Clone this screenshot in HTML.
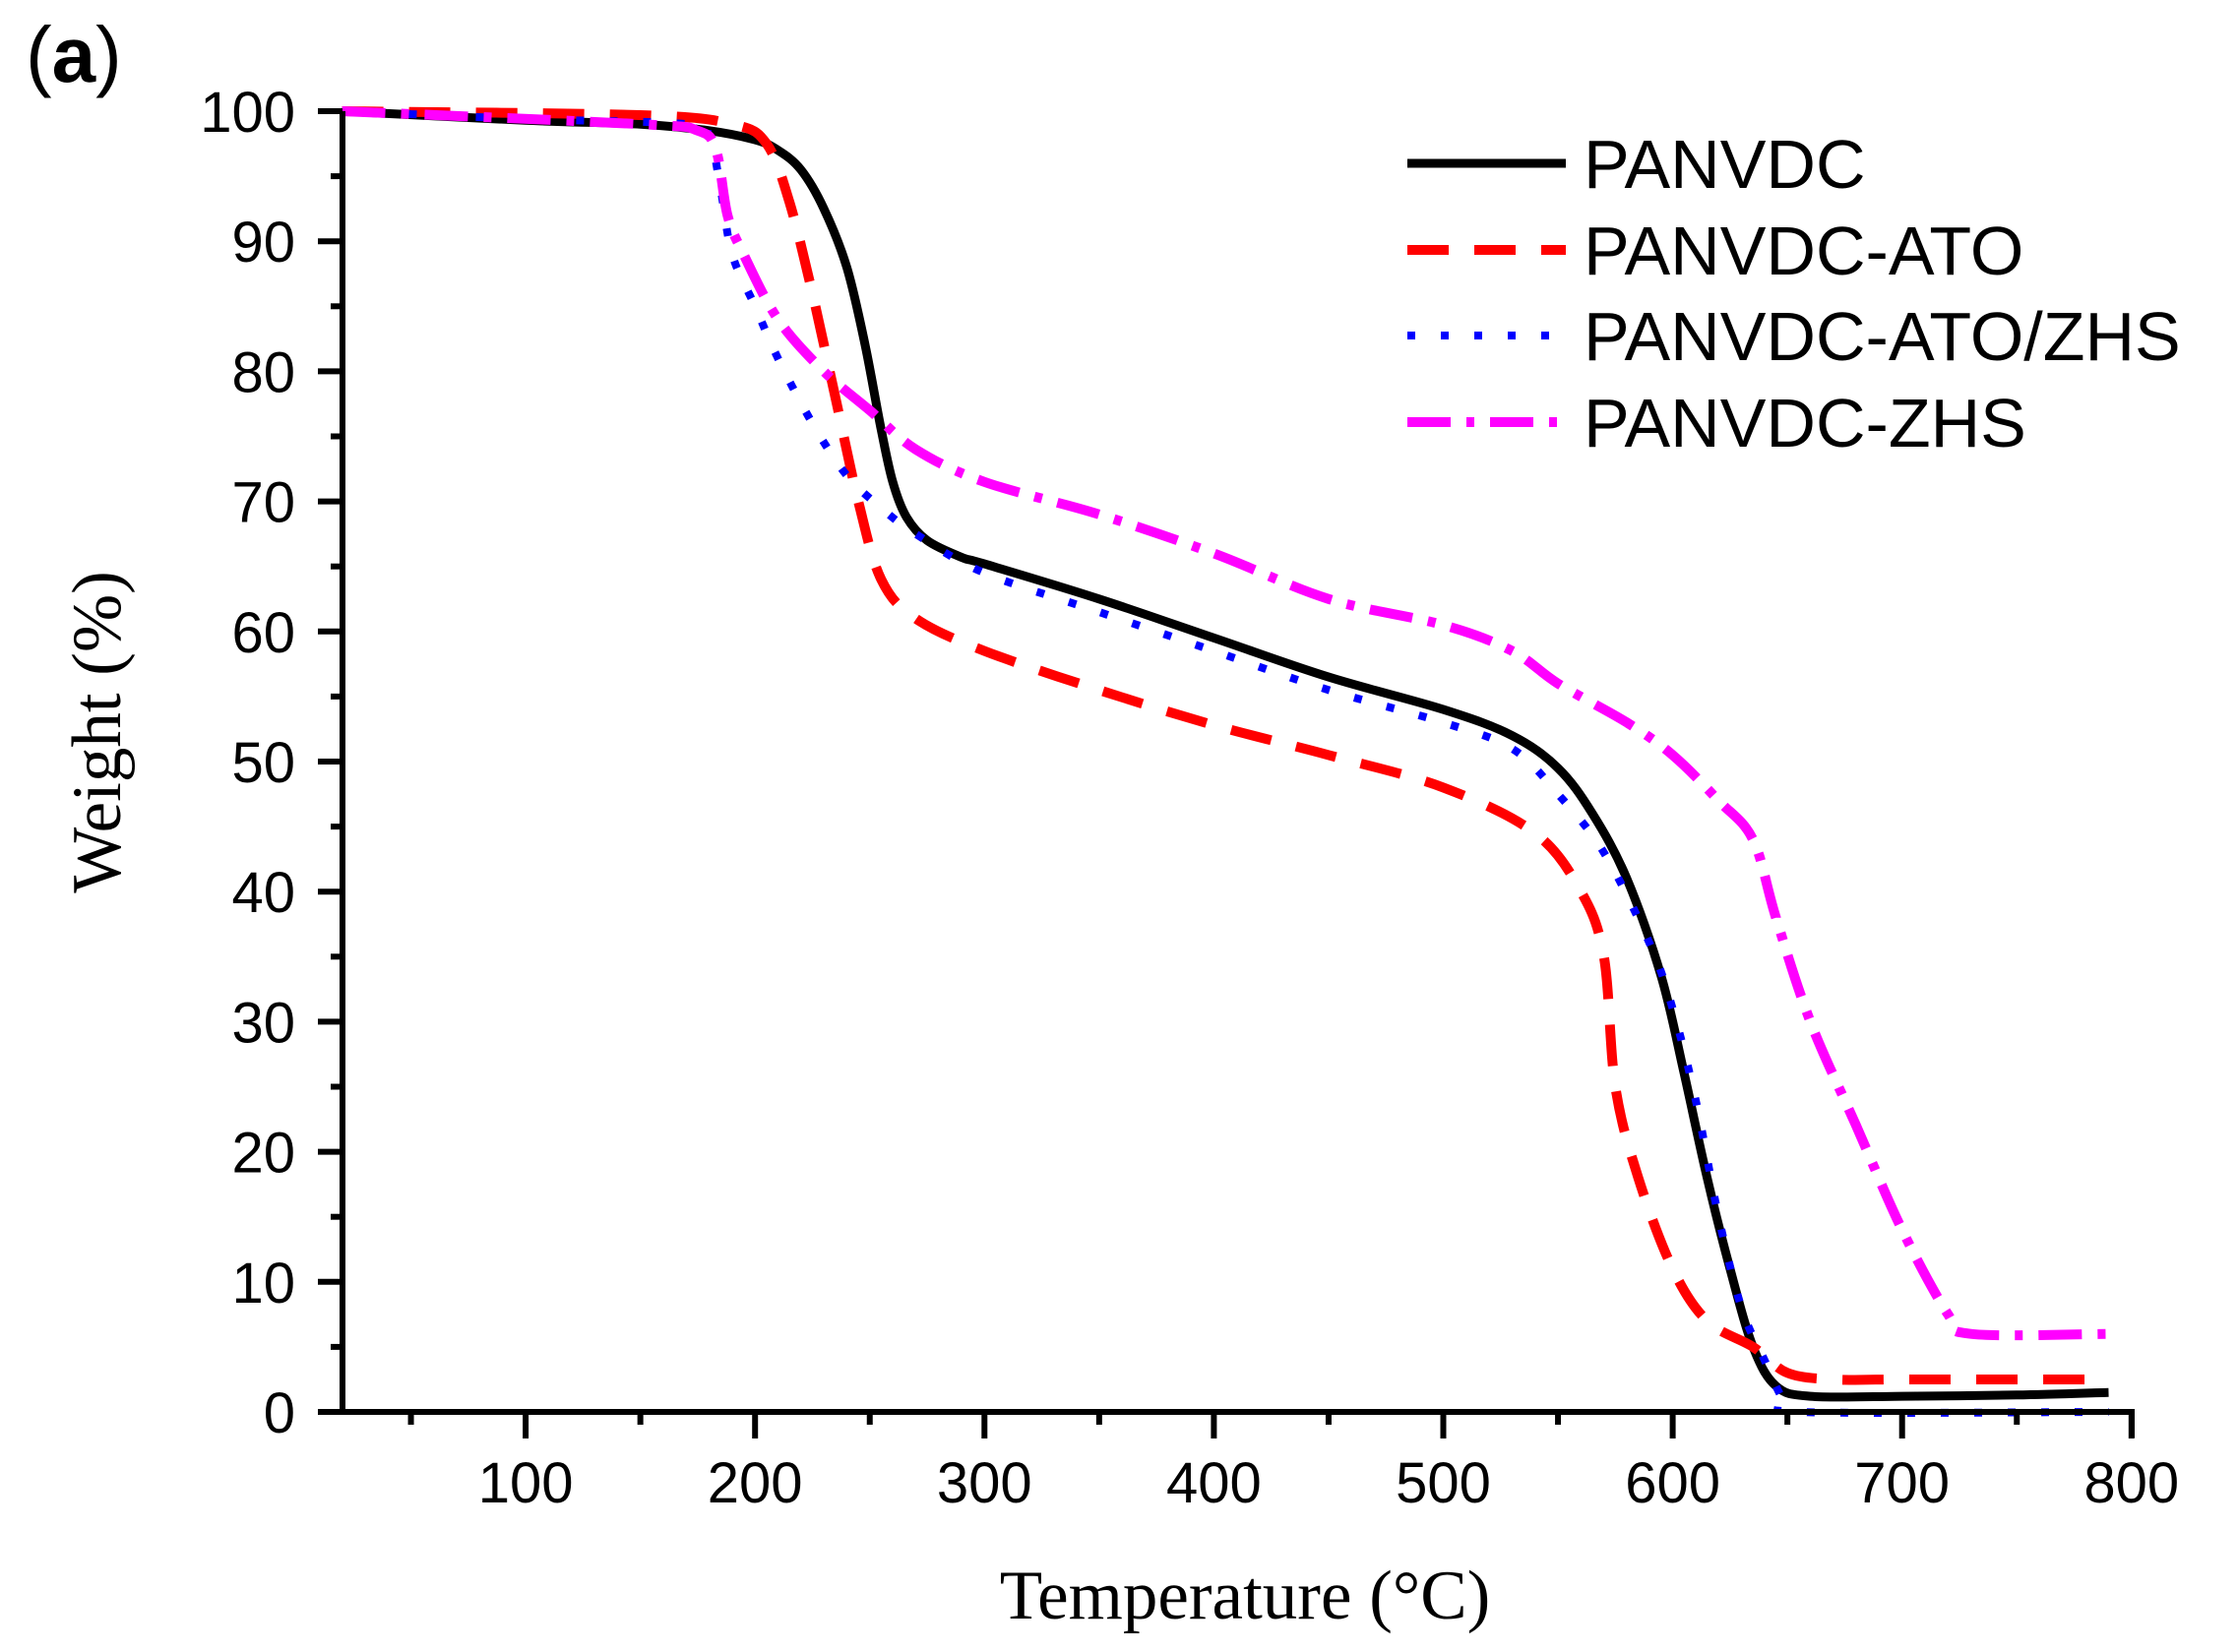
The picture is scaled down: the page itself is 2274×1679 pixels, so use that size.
<!DOCTYPE html>
<html><head><meta charset="utf-8"><style>
html,body{margin:0;padding:0;background:#fff;}
svg{display:block;}
</style></head><body>
<svg id="s" width="2274" height="1679" viewBox="0 0 2274 1679" xmlns="http://www.w3.org/2000/svg">
<rect width="2274" height="1679" fill="#fff"/>
<g id="plot" fill="none" stroke-linejoin="round"></g>
<g id="axes" stroke="#000" stroke-width="6" fill="none"></g>
<g id="labels" font-family="Liberation Sans, Arial, sans-serif" font-size="58" fill="#000"></g>
<text x="26" y="83" font-family="Liberation Sans, Arial, sans-serif" font-size="80" fill="#000">(<tspan font-weight="bold">a</tspan>)</text>
<text x="1265" y="1645" text-anchor="middle" font-family="Liberation Serif, serif" font-size="71" fill="#000">Temperature (°C)</text>
<text transform="translate(122,744) rotate(-90)" text-anchor="middle" font-family="Liberation Serif, serif" font-size="71" fill="#000">Weight (%)</text>
<g font-family="Liberation Sans, Arial, sans-serif" font-size="70" fill="#000">
<line x1="1430" y1="166" x2="1591" y2="166" stroke="#000" stroke-width="9"/>
<line x1="1430" y1="254" x2="1591" y2="254" stroke="#f00" stroke-width="10" stroke-dasharray="42,26"/>
<line x1="1430" y1="341" x2="1591" y2="341" stroke="#00f" stroke-width="8" stroke-dasharray="8,26"/>
<line x1="1430" y1="429" x2="1591" y2="429" stroke="#f0f" stroke-width="10" stroke-dasharray="44,16,8,16"/>
<text x="1609" y="191">PANVDC</text>
<text x="1609" y="279">PANVDC-ATO</text>
<text x="1609" y="366">PANVDC-ATO/ZHS</text>
<text x="1609" y="454">PANVDC-ZHS</text>
</g>
</svg>
<script>
var X=function(t){return 301+2.331*t;}, Y=function(w){return 1435-13.22*w;};
var NS="http://www.w3.org/2000/svg";
function el(p,n,a){var e=document.createElementNS(NS,n);for(var k in a)e.setAttribute(k,a[k]);p.appendChild(e);return e;}
var series=[
{c:"#000",w:9,d:"none",p:[[20,100],[100,99.3],[150,99],[180,98.5],[200,97.8],[210,97],[220,95.5],[230,92.5],[240,88],[248,82],[255,75.5],[260,71.5],[266,68.8],[275,67],[290,65.7],[300,65.2],[350,62.5],[400,59.5],[450,56.5],[500,54],[530,52],[550,49.5],[565,46],[580,41],[595,33.5],[605,26],[615,18],[625,11],[635,5],[645,2],[660,1.2],[700,1.2],[750,1.3],[790,1.5]]},
{c:"#f00",w:10,d:"42,26",p:[[20,100],[150,99.7],[190,99],[205,97.5],[215,93],[225,86],[235,78],[245,70],[255,64],[270,61],[300,58.5],[350,55.5],[400,52.8],[450,50.5],[500,48],[540,44.5],[560,40],[570,35],[575,25],[585,18],[600,11],[615,7],[635,5],[650,3],[670,2.5],[700,2.5],[790,2.5]]},
{c:"#00f",w:8,d:"8,26",p:[[20,100],[100,99.4],[170,99],[180,98],[185,94],[190,89],[200,85],[210,81],[225,76],[240,72],[255,69.5],[270,67.5],[300,64.5],[350,61.5],[400,58.5],[450,55.5],[500,53],[530,51],[550,47.5],[570,43],[590,36],[600,31],[610,24],[620,15],[630,8],[640,4],[648,1],[655,0],[790,0]]},
{c:"#f0f",w:10,d:"44,16,8,16",p:[[20,100],[150,99],[175,98.5],[183,97],[188,92],[195,89],[210,84],[230,80],[250,77],[270,74],[300,71.5],[350,69],[400,66],[450,62.5],[500,60.5],[530,58.5],[550,56],[580,53],[600,50.5],[620,47],[635,44],[645,38],[660,30],[680,22],[700,14],[720,7.5],[730,6],[790,6]]}
];
function smooth(P){
 var d="M"+P[0][0].toFixed(1)+","+P[0][1].toFixed(1);
 for(var i=0;i<P.length-1;i++){
  var p0=P[i>0?i-1:i],p1=P[i],p2=P[i+1],p3=P[i+2<P.length?i+2:i+1];
  var c1=[p1[0]+(p2[0]-p0[0])/6,p1[1]+(p2[1]-p0[1])/6];
  var c2=[p2[0]-(p3[0]-p1[0])/6,p2[1]-(p3[1]-p1[1])/6];
  d+=" C"+c1[0].toFixed(1)+","+c1[1].toFixed(1)+" "+c2[0].toFixed(1)+","+c2[1].toFixed(1)+" "+p2[0].toFixed(1)+","+p2[1].toFixed(1);
 }
 return d;
}
var plot=document.getElementById("plot");
series.forEach(function(s){
 var P=s.p.map(function(q){return [X(q[0]),Y(q[1])];});
 var a={d:smooth(P),stroke:s.c,"stroke-width":s.w};
 if(s.d!="none")a["stroke-dasharray"]=s.d;
 el(plot,"path",a);
});
var ax=document.getElementById("axes"),lb=document.getElementById("labels");
var L=348,R=2166,T=113,B=1435;
el(ax,"polyline",{points:L+","+T+" "+L+","+B+" "+R+","+B+" "+R+","+(B+26)});
for(var w=0;w<=100;w+=5){var y=Y(w);var len=(w%10==0)?25:12;
 el(ax,"line",{x1:L-len,y1:y,x2:L,y2:y});
 if(w%10==0){var t=el(lb,"text",{x:300,y:y+21,"text-anchor":"end"});t.textContent=w;}}
for(var tt=50;tt<=800;tt+=50){var x=X(tt);var len=(tt%100==0)?27:13;
 el(ax,"line",{x1:x,y1:B,x2:x,y2:B+len});
 if(tt%100==0){var t=el(lb,"text",{x:x,y:1527,"text-anchor":"middle"});t.textContent=tt;}}
</script>
</body></html>
